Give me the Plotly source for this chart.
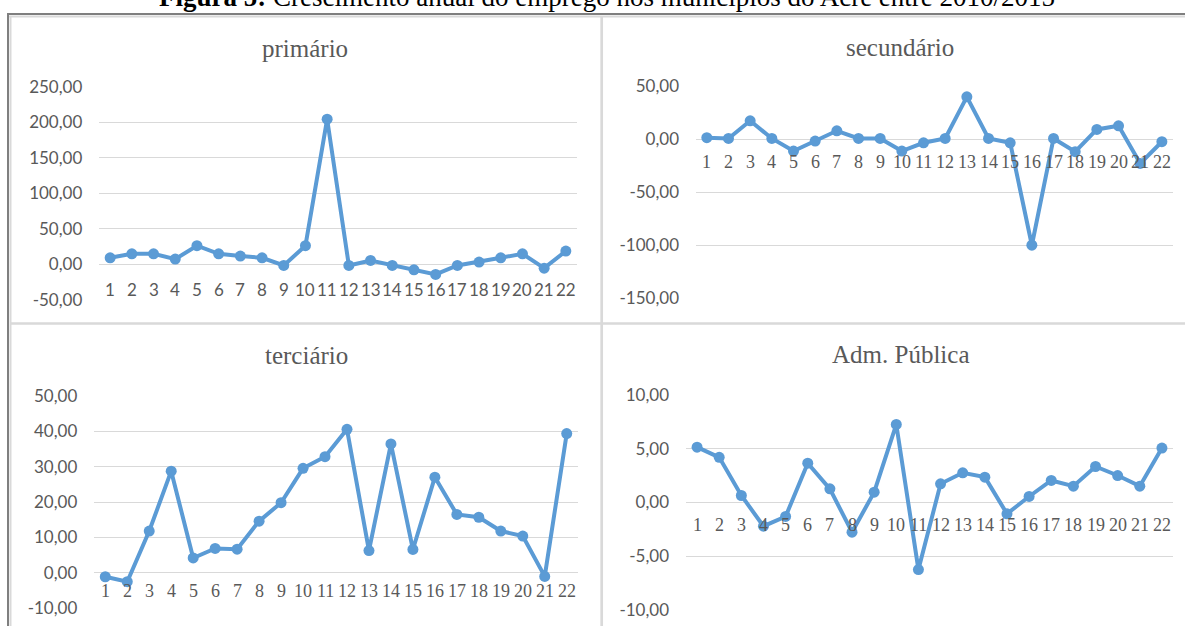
import plotly.graph_objects as go

# Figure size in pixels
W, H = 1185, 626

# Municipalities 1..22 (category axis)
municipios = list(range(1, 23))
rotulos = [str(m) for m in municipios]

# Annual employment growth (%) per sector
primario = [9.4, 15.0, 15.0, 7.5, 26.4, 15.0, 11.8, 9.4, -1.4, 26.4, 204.3,
            -1.4, 5.6, -1.4, -7.5, -14.0, -1.4, 3.3, 9.4, 15.0, -5.2, 18.8]
secundario = [1.3, 0.6, 17.2, 0.6, -11.3, -1.9, 7.8, 0.6, 0.6, -11.3, -3.5,
              0.6, 39.8, 0.6, -3.5, -100.0, 0.6, -11.9, 9.1, 12.5, -22.9, -2.5]
terciario = [-1.1, -2.5, 11.8, 28.7, 4.2, 6.9, 6.7, 14.6, 19.8, 29.5, 32.8,
             40.5, 6.3, 36.4, 6.6, 27.0, 16.5, 15.7, 11.8, 10.4, -1.0, 39.3]
adm_publica = [5.15, 4.2, 0.65, -2.2, -1.3, 3.66, 1.27, -2.76, 0.96, 7.26, -6.24,
               1.74, 2.76, 2.36, -1.05, 0.56, 2.05, 1.52, 3.35, 2.51, 1.52, 5.06]

# Y-axis tick values per panel
ticks_primario = [-50, 0, 50, 100, 150, 200, 250]
ticks_secundario = [-150, -100, -50, 0, 50]
ticks_terciario = [-10, 0, 10, 20, 30, 40, 50]
ticks_adm = [-10, -5, 0, 5, 10]

titulos = ["primário", "secundário", "terciário", "Adm. Pública"]
series = [primario, secundario, terciario, adm_publica]
ticks = [ticks_primario, ticks_secundario, ticks_terciario, ticks_adm]

AZUL = "#5B9BD5"
CINZA_TXT = "#595959"
GRADE = "#D9D9D9"
SANS = "Lato, 'Liberation Sans', sans-serif"
SERIF = "'Liberation Serif', 'Times New Roman', serif"


def px_x(v):
    return v / W


def px_y(v):
    return 1 - v / H


def br(v):
    return f"{v:.2f}".replace(".", ",")


# plot-area boxes (left, right, top, bottom) in pixels
areas = [(99.3, 576.7, 86.7, 300.0),
         (696.0, 1172.7, 86.0, 298.3),
         (94.3, 577.7, 395.7, 608.3),
         (686.0, 1173.0, 395.0, 610.0)]
# title centre x and vertical position (px)
pos_titulo = [(305, 48), (900, 47), (306, 355), (901, 354)]
# category label font and offset below the zero line
fonte_cat = [SANS, SERIF, SERIF, SERIF]
desloc_cat = [-25, -23, -18, -22]

fig = go.Figure()
anotacoes = []
layout = {}

for i in range(4):
    n = "" if i == 0 else str(i + 1)
    xa, ya = "x" + n, "y" + n
    l, r, t, b = areas[i]
    fig.add_trace(go.Scatter(
        x=municipios, y=series[i], xaxis=xa, yaxis=ya, mode="lines+markers",
        line=dict(color=AZUL, width=4),
        marker=dict(color=AZUL, size=11),
        cliponaxis=False, showlegend=False, hoverinfo="skip"))
    tv = ticks[i]
    layout["xaxis" + n] = dict(
        domain=[px_x(l), px_x(r)], range=[0.5, 22.5], anchor=ya,
        showgrid=False, zeroline=False, showticklabels=False, ticks="",
        automargin=False, fixedrange=True)
    layout["yaxis" + n] = dict(
        domain=[px_y(b), px_y(t)], range=[tv[0], tv[-1]], anchor=xa,
        tickvals=tv, ticktext=[br(v) for v in tv], showgrid=True,
        gridcolor=GRADE, gridwidth=1.3, zeroline=False, ticks="",
        ticklabelstandoff=16, tickfont=dict(family=SANS, size=17, color=CINZA_TXT),
        automargin=False, fixedrange=True)
    tx, ty = pos_titulo[i]
    anotacoes.append(dict(
        text=titulos[i], x=px_x(tx), y=px_y(ty), xref="paper", yref="paper",
        xanchor="center", yanchor="middle", showarrow=False,
        font=dict(family=SERIF, size=25, color=CINZA_TXT)))
    for m, lab in zip(municipios, rotulos):
        anotacoes.append(dict(
            text=lab, x=m, y=0, xref=xa, yref=ya, yshift=desloc_cat[i],
            xanchor="center", yanchor="middle", showarrow=False,
            font=dict(family=fonte_cat[i], size=17 if i == 0 else 18,
                      color=CINZA_TXT)))

# Figure caption, running off the top edge of the page
anotacoes.append(dict(
    text="<b>Figura 5:</b> Crescimento anual do emprego nos municípios do Acre entre 2010/2015",
    x=px_x(607), y=px_y(-3), xref="paper", yref="paper", xanchor="center",
    yanchor="middle", showarrow=False,
    font=dict(family=SERIF, size=27, color="#000000")))

# Frame lines around and between the panels
formas = [
    dict(type="line", xref="paper", yref="paper", x0=px_x(7), x1=1,
         y0=px_y(14), y1=px_y(14), line=dict(color="#7F7F7F", width=2)),
    dict(type="line", xref="paper", yref="paper", x0=px_x(8), x1=px_x(8),
         y0=px_y(13), y1=0, line=dict(color="#7F7F7F", width=2)),
    dict(type="line", xref="paper", yref="paper", x0=px_x(9), x1=1,
         y0=px_y(16.5), y1=px_y(16.5), line=dict(color=GRADE, width=2)),
    dict(type="line", xref="paper", yref="paper", x0=px_x(10.5), x1=px_x(10.5),
         y0=px_y(16), y1=0, line=dict(color=GRADE, width=2)),
    dict(type="line", xref="paper", yref="paper", x0=px_x(601.7), x1=px_x(601.7),
         y0=px_y(16), y1=0, line=dict(color=GRADE, width=2.7)),
    dict(type="line", xref="paper", yref="paper", x0=px_x(10), x1=1,
         y0=px_y(323.5), y1=px_y(323.5), line=dict(color=GRADE, width=2.7)),
]

fig.update_layout(
    template="none",
    width=W, height=H, autosize=False,
    margin=dict(l=0, r=0, t=0, b=0, pad=0, autoexpand=False),
    paper_bgcolor="white", plot_bgcolor="white",
    separators=",.",
    annotations=anotacoes, shapes=formas,
    **layout)

fig.write_html("out.html", config={"displayModeBar": False})
